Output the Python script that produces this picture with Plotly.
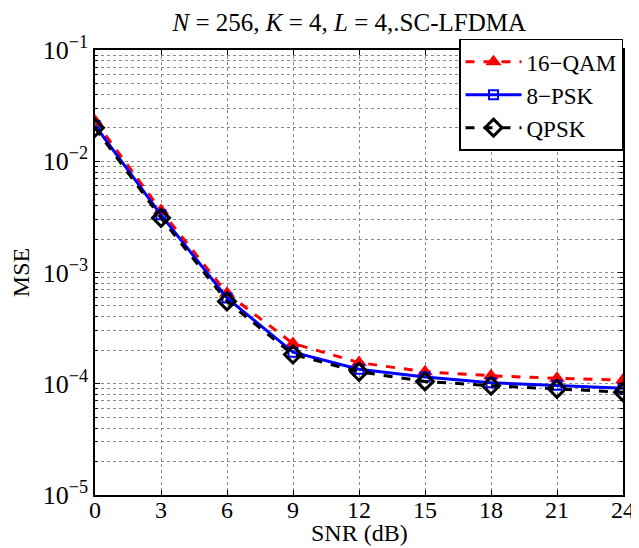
import plotly.graph_objects as go

snr = [0, 3, 6, 9, 12, 15, 18, 21, 24]
mse_16qam = [0.023, 0.0036, 0.00065, 0.00023, 0.000155, 0.000128, 0.000118, 0.000112, 0.000108]
mse_8psk = [0.021, 0.0033, 0.00059, 0.000192, 0.000135, 0.000115, 0.000102, 0.000097, 0.000091]
mse_qpsk = [0.020, 0.0031, 0.00055, 0.000183, 0.000128, 0.000105, 0.000096, 0.000090, 0.000084]

x_ticks = [0, 3, 6, 9, 12, 15, 18, 21, 24]
y_tickvals = [1e-5, 1e-4, 1e-3, 1e-2, 1e-1]
y_ticktext = ["10<sup>\u22125</sup>", "10<sup>\u22124</sup>", "10<sup>\u22123</sup>",
              "10<sup>\u22122</sup>", "10<sup>\u22121</sup>"]
y_minor = [m * 10.0 ** e for e in range(-5, -1) for m in range(2, 10)]

FONT = "Liberation Serif, serif"

fig = go.Figure()
fig.add_trace(go.Scatter(
    x=snr, y=mse_16qam, name="16\u2212QAM", mode="lines+markers",
    line=dict(color="#ff0000", width=3, dash="dash"),
    marker=dict(symbol="triangle-up", size=14, color="#ff0000"),
))
fig.add_trace(go.Scatter(
    x=snr, y=mse_8psk, name="8\u2212PSK", mode="lines+markers",
    line=dict(color="#0000ff", width=3),
    marker=dict(symbol="square-open", size=9, color="#0000ff", line=dict(width=2)),
))
fig.add_trace(go.Scatter(
    x=snr, y=mse_qpsk, name="QPSK", mode="lines+markers",
    line=dict(color="#000000", width=3, dash="dash"),
    marker=dict(symbol="diamond-open", size=13, color="#000000", line=dict(width=3)),
))

fig.update_layout(
    width=639, height=548,
    margin=dict(l=86, r=13, t=42, b=61),
    paper_bgcolor="white", plot_bgcolor="white",
    font=dict(family=FONT, size=22, color="black"),
    title=dict(
        text="<i>N</i> = 256, <i>K</i> = 4, <i>L</i> = 4,.SC-LFDMA",
        x=0.534, xanchor="center", y=0.99, yanchor="top",
        font=dict(family=FONT, size=25, color="black"),
    ),
    showlegend=True,
    legend=dict(
        x=1, y=1.025, xanchor="right", yanchor="top",
        bgcolor="white", bordercolor="black", borderwidth=1.5,
        font=dict(family=FONT, size=23, color="black"),
        tracegroupgap=0, itemwidth=56,
    ),
    annotations=[dict(
        text="SNR (dB)", xref="paper", yref="paper", x=0.5, y=0,
        xanchor="center", yanchor="top", yshift=-23, showarrow=False,
        font=dict(family=FONT, size=24, color="black"),
    )],
)

fig.update_xaxes(
    range=[0, 24], tickvals=x_ticks, ticktext=[str(v) for v in x_ticks],
    showline=True, linecolor="black", linewidth=1.5, mirror="allticks",
    ticks="inside", ticklen=5, tickcolor="black", ticklabelstandoff=-8,
    showgrid=True, gridcolor="#8a8a8a", griddash="dot", gridwidth=1,
    zeroline=False,
    tickfont=dict(family=FONT, size=24),
)
fig.update_yaxes(
    type="log", range=[-5, -1], tickvals=y_tickvals, ticktext=y_ticktext,
    showline=True, linecolor="black", linewidth=1.5, mirror="allticks",
    ticks="inside", ticklen=5, tickcolor="black",
    showgrid=True, gridcolor="#8a8a8a", griddash="dot", gridwidth=1,
    minor=dict(tickvals=y_minor, ticks="inside", ticklen=3, tickcolor="black",
               showgrid=True, gridcolor="#8a8a8a", griddash="dot", gridwidth=1),
    zeroline=False,
    title=dict(text="MSE", font=dict(family=FONT, size=24), standoff=6),
    tickfont=dict(family=FONT, size=26),
)

fig.write_html("out.html")
